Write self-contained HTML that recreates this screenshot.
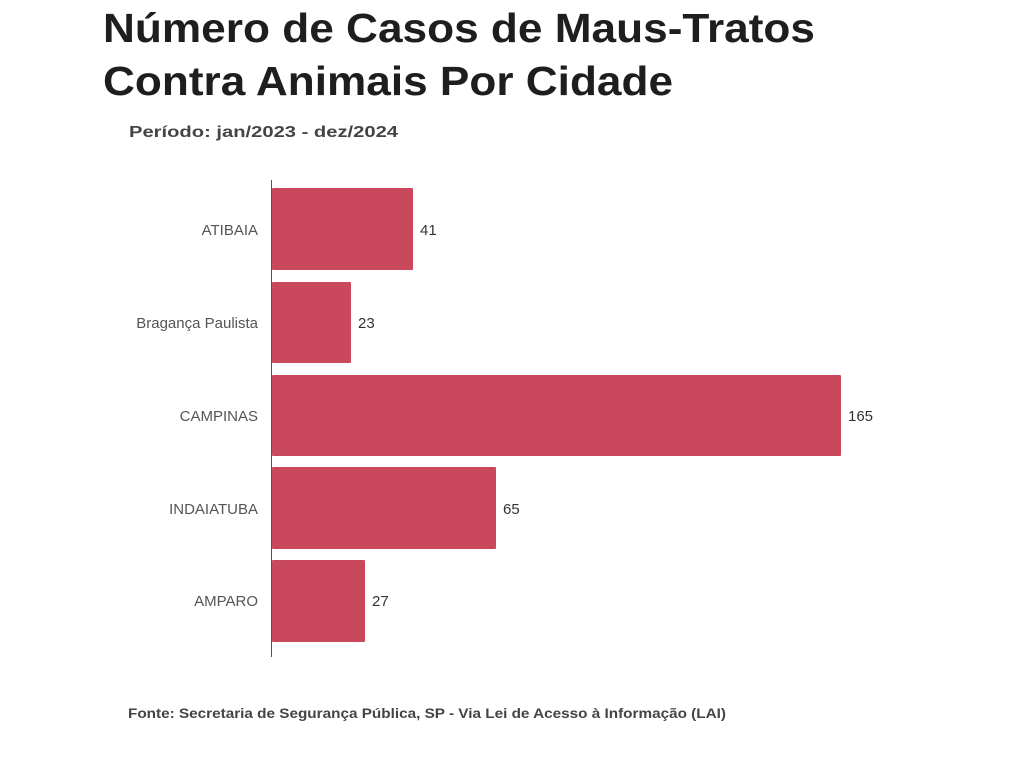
<!DOCTYPE html>
<html><head><meta charset="utf-8"><style>
html,body{margin:0;padding:0;background:#fff;}
svg{display:block;}
</style></head><body>
<svg width="1024" height="768" xmlns="http://www.w3.org/2000/svg" font-family="Liberation Sans, sans-serif">
<rect width="1024" height="768" fill="#fff"/>
<text x="103" y="42" font-size="41" font-weight="bold" fill="#1e1e1e" textLength="712" lengthAdjust="spacingAndGlyphs">Número de Casos de Maus-Tratos</text>
<text x="103" y="95" font-size="41" font-weight="bold" fill="#1e1e1e" textLength="570" lengthAdjust="spacingAndGlyphs">Contra Animais Por Cidade</text>
<text x="129" y="137" font-size="16" font-weight="bold" fill="#444" textLength="269" lengthAdjust="spacingAndGlyphs">Período: jan/2023 - dez/2024</text>
<line x1="271.5" y1="180" x2="271.5" y2="657" stroke="#555" stroke-width="1"/>
<g fill="#c9485b">
<rect x="272" y="188" width="141" height="82" rx="1"/>
<rect x="272" y="282" width="79" height="81" rx="1"/>
<rect x="272" y="375" width="569" height="81" rx="1"/>
<rect x="272" y="467" width="224" height="82" rx="1"/>
<rect x="272" y="560" width="93" height="82" rx="1"/>
</g>
<g font-size="15" fill="#555" text-anchor="end">
<text x="258" y="235">ATIBAIA</text>
<text x="258" y="328">Bragança Paulista</text>
<text x="258" y="421">CAMPINAS</text>
<text x="258" y="514">INDAIATUBA</text>
<text x="258" y="606">AMPARO</text>
</g>
<g font-size="15" fill="#333">
<text x="420" y="235">41</text>
<text x="358" y="328">23</text>
<text x="848" y="421">165</text>
<text x="503" y="514">65</text>
<text x="372" y="606">27</text>
</g>
<text x="128" y="718" font-size="14" font-weight="bold" fill="#444" textLength="598" lengthAdjust="spacingAndGlyphs">Fonte: Secretaria de Segurança Pública, SP - Via Lei de Acesso à Informação (LAI)</text>
</svg>
</body></html>
